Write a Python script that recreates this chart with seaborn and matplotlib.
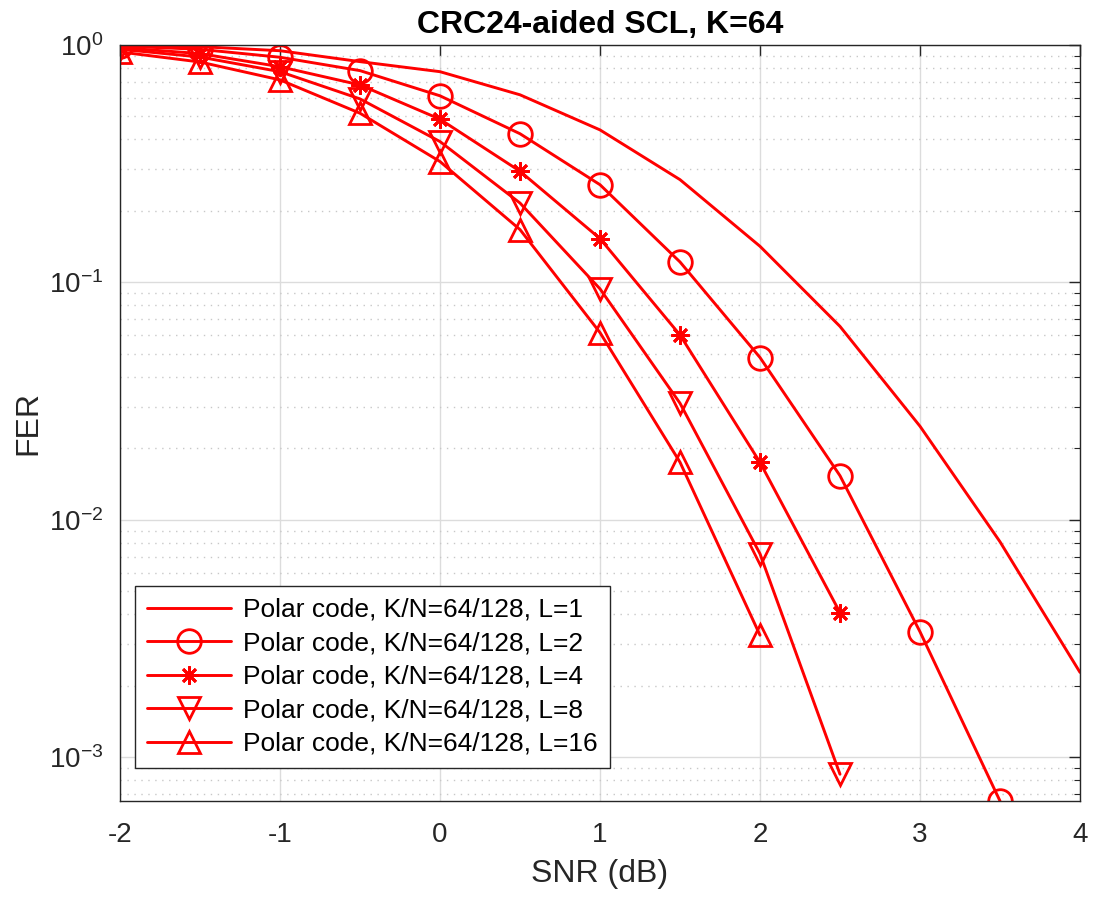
import numpy as np
import pandas as pd
import matplotlib
matplotlib.use("Agg")
import matplotlib.pyplot as plt
from matplotlib.ticker import LogLocator, FixedLocator
import seaborn as sns

# ---- data ----
snr = [-2.0, -1.5, -1.0, -0.5, 0.0, 0.5, 1.0, 1.5, 2.0, 2.5, 3.0, 3.5, 4.0]
fer_L1 = [0.99, 0.984, 0.946, 0.851, 0.772, 0.617, 0.439, 0.271, 0.142, 0.0653, 0.0248, 0.00809, 0.00228]
fer_L2 = [0.99, 0.959, 0.888, 0.78, 0.611, 0.423, 0.258, 0.122, 0.0483, 0.01535, 0.00338, 0.000655]
fer_L4 = [0.975, 0.92, 0.81, 0.679, 0.487, 0.294, 0.153, 0.0601, 0.01747, 0.00407]
fer_L8 = [0.96, 0.89, 0.772, 0.593, 0.392, 0.216, 0.094, 0.031, 0.0072, 0.000849]
fer_L16 = [0.935, 0.848, 0.713, 0.516, 0.323, 0.167, 0.0615, 0.0175, 0.00327]
labels = ["Polar code, K/N=64/128, L=1", "Polar code, K/N=64/128, L=2",
          "Polar code, K/N=64/128, L=4", "Polar code, K/N=64/128, L=8",
          "Polar code, K/N=64/128, L=16"]
series = [fer_L1, fer_L2, fer_L4, fer_L8, fer_L16]
markers = [None, "o", (8, 2, 0), "v", "^"]
msizes = [0, 17, 13, 16, 16]

title = "CRC24-aided SCL, K=64"
xlabel = "SNR (dB)"
ylabel = "FER"

sns.set_theme(style="white")
plt.rcParams["font.family"] = ["Liberation Sans", "DejaVu Sans"]
plt.rcParams["mathtext.fontset"] = "custom"
plt.rcParams["mathtext.rm"] = "Liberation Sans"
plt.rcParams["mathtext.it"] = "Liberation Sans:italic"
plt.rcParams["mathtext.bf"] = "Liberation Sans:bold"
plt.rcParams["axes.unicode_minus"] = False

fig = plt.figure(figsize=(10.94, 8.99), dpi=100)
ax = fig.add_axes([120 / 1094, (899 - 801) / 899, 960 / 1094, 756 / 899])

for vals, lab, mk, ms in zip(series, labels, markers, msizes):
    df = pd.DataFrame({"snr": snr[:len(vals)], "fer": vals})
    kw = dict(lw=2.1, color="#ff0000")
    if mk is not None:
        kw.update(marker=mk, markersize=ms, mfc="none", mec="#ff0000", mew=2.0)
    sns.lineplot(data=df, x="snr", y="fer", ax=ax, label=lab, **kw)

ax.set_yscale("log")
ax.set_xlim(-2, 4)
ax.set_ylim(0.000655, 1.0)
ax.xaxis.set_major_locator(FixedLocator([-2, -1, 0, 1, 2, 3, 4]))
ax.yaxis.set_major_locator(LogLocator(base=10, numticks=10))
ax.yaxis.set_minor_locator(LogLocator(base=10, subs=np.arange(2, 10), numticks=20))

ax.grid(True, which="major", color="#dcdcdc", lw=1.0, ls="-")
ax.grid(True, which="minor", axis="y", color="#c8c8c8", lw=1.0, ls=(0, (1, 4)))
ax.set_axisbelow(True)

for sp in ax.spines.values():
    sp.set_visible(True)
    sp.set_color("#262626")
    sp.set_linewidth(1.0)
ax.tick_params(which="both", direction="in", top=True, right=True,
               colors="#262626", labelsize=20, labelcolor="#262626")
ax.tick_params(which="major", length=8, width=1.0)
ax.tick_params(axis="x", which="major", pad=15)
ax.tick_params(axis="y", which="major", pad=12)
ax.tick_params(which="minor", length=4, width=0.8)
ax.tick_params(axis="x", which="minor", bottom=False, top=False)

ax.set_title(title, fontsize=23, fontweight="bold", color="black", pad=9)
ax.set_xlabel(xlabel, fontsize=23, color="#262626", labelpad=8)
ax.set_ylabel(ylabel, fontsize=23, color="#262626", labelpad=4)

leg = ax.legend(loc="lower left", bbox_to_anchor=(0.0156, 0.044), fontsize=19,
                frameon=True, fancybox=False, framealpha=1, edgecolor="#262626",
                handlelength=3.2, handletextpad=0.45, borderpad=0.45,
                labelspacing=0.36, borderaxespad=0.0, labelcolor="black")
leg.get_frame().set_linewidth(1.0)

fig.savefig("out.png", dpi=100)
